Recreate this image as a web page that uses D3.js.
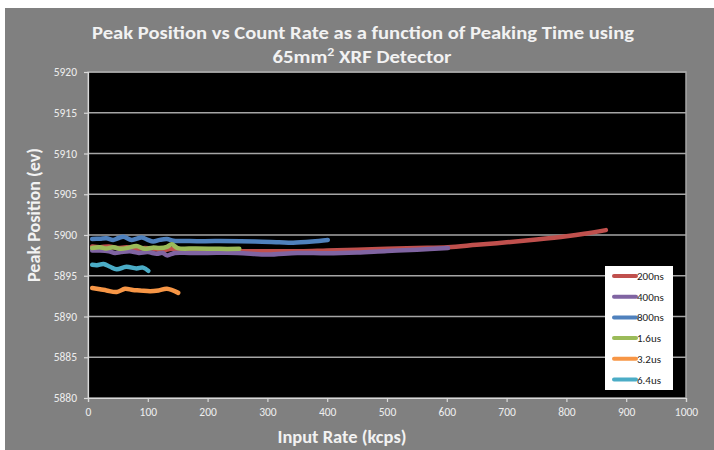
<!DOCTYPE html>
<html>
<head>
<meta charset="utf-8">
<script src="https://cdn.jsdelivr.net/npm/d3@7"></script>
<style>
  body { margin: 0; background: #ffffff; }
  text { font-family: Carlito, "Liberation Sans Narrow", "Liberation Sans", sans-serif; }
</style>
</head>
<body>
<svg id="chart" width="714" height="450"></svg>
<script>
// series names and colours (legend order)
const seriesNames = ["200ns", "400ns", "800ns", "1.6us", "3.2us", "6.4us"];
const seriesColors = ["#c0504d", "#8064a2", "#4f81bd", "#9bbb59", "#f79646", "#4bacc6"];

// input rate (kcps) per series
const x200ns = [7, 20, 35, 50, 65, 80, 95, 110, 125, 140, 160, 200, 250, 300, 355, 400, 450, 500, 550, 602, 650, 700, 750, 800, 830, 866];
const x400ns = [7, 20, 35, 45, 55, 70, 85, 100, 115, 125, 132, 145, 170, 200, 250, 300, 350, 400, 450, 500, 550, 602];
const x800ns = [7, 20, 31, 42, 50, 59, 73, 90, 100, 109, 120, 132, 143, 170, 220, 280, 320, 343, 375, 401];
const x1p6us = [7, 20, 30, 42, 55, 68, 81, 95, 108, 120, 132, 140, 150, 180, 220, 253];
const x3p2us = [7, 20, 31, 48, 62, 75, 87, 104, 118, 132, 151];
const x6p4us = [7, 15, 26, 37, 48, 64, 81, 92, 101];

// peak position (eV) per series
const y200ns = [5898.6, 5898.5, 5898.6, 5898.4, 5898.5, 5898.3, 5898.4, 5898.3, 5898.1, 5898.3, 5898.1, 5898.0, 5898.0, 5898.0, 5898.0, 5898.1, 5898.2, 5898.3, 5898.4, 5898.5, 5898.8, 5899.1, 5899.45, 5899.85, 5900.15, 5900.6];
const y400ns = [5898.1, 5898.1, 5898.0, 5897.8, 5897.9, 5898.0, 5897.8, 5897.9, 5897.7, 5897.8, 5897.5, 5897.8, 5897.8, 5897.8, 5897.8, 5897.6, 5897.8, 5897.75, 5897.85, 5898.05, 5898.2, 5898.4];
const y800ns = [5899.5, 5899.55, 5899.6, 5899.4, 5899.6, 5899.8, 5899.4, 5899.7, 5899.4, 5899.2, 5899.4, 5899.5, 5899.3, 5899.25, 5899.25, 5899.2, 5899.1, 5899.05, 5899.2, 5899.4];
const y1p6us = [5898.4, 5898.5, 5898.35, 5898.5, 5898.3, 5898.45, 5898.65, 5898.3, 5898.45, 5898.4, 5898.55, 5898.85, 5898.4, 5898.35, 5898.3, 5898.3];
const y3p2us = [5893.5, 5893.35, 5893.2, 5893.0, 5893.4, 5893.25, 5893.2, 5893.1, 5893.2, 5893.4, 5892.9];
const y6p4us = [5896.35, 5896.3, 5896.45, 5896.1, 5895.8, 5896.1, 5895.9, 5896.0, 5895.6];

const xTicks = [0, 100, 200, 300, 400, 500, 600, 700, 800, 900, 1000];
const yTicks = [5880, 5885, 5890, 5895, 5900, 5905, 5910, 5915, 5920];

const xs = [x200ns, x400ns, x800ns, x1p6us, x3p2us, x6p4us];
const ys = [y200ns, y400ns, y800ns, y1p6us, y3p2us, y6p4us];
const series = seriesNames.map((name, i) => ({
    name: name,
    color: seriesColors[i],
    points: xs[i].map((x, j) => ({x: x, y: ys[i][j]}))
}));

const plot = {left: 88, top: 72, right: 686, bottom: 398};

const svg = d3.select("#chart");

// chart background
svg.append("rect")
    .attr("x", 5).attr("y", 8)
    .attr("width", 709).attr("height", 442)
    .attr("fill", "#808080");

const x = d3.scaleLinear().domain([0, 1000]).range([plot.left, plot.right]);
const y = d3.scaleLinear().domain([5880, 5920]).range([plot.bottom, plot.top]);

// plot area
svg.append("rect")
    .attr("x", plot.left).attr("y", plot.top)
    .attr("width", plot.right - plot.left)
    .attr("height", plot.bottom - plot.top)
    .attr("fill", "#000000")
    .attr("stroke", "#a6a6a6")
    .attr("stroke-width", 1.5);

// gridlines
svg.append("g")
    .selectAll("line")
    .data(yTicks.slice(1))
    .enter()
    .append("line")
    .attr("x1", plot.left).attr("x2", plot.right)
    .attr("y1", d => y(d)).attr("y2", d => y(d))
    .attr("stroke", "#a6a6a6")
    .attr("stroke-width", 1.5);

// axes
const yAxis = svg.append("g")
    .attr("transform", "translate(" + plot.left + ",0)")
    .call(d3.axisLeft(y).tickValues(yTicks).tickFormat(d3.format("d")).tickSize(4).tickPadding(7));
const xAxis = svg.append("g")
    .attr("transform", "translate(0," + plot.bottom + ")")
    .call(d3.axisBottom(x).tickValues(xTicks).tickFormat(d3.format("d")).tickSize(4).tickPadding(6));

[xAxis, yAxis].forEach(ax => {
    ax.select(".domain").attr("stroke", "#d9d9d9").attr("stroke-width", 1.2);
    ax.selectAll(".tick line").attr("stroke", "#d9d9d9").attr("stroke-width", 1.2);
    ax.selectAll(".tick text")
        .attr("fill", "#eeeeee")
        .style("font-size", "11.5px")
        .style("font-family", "Carlito, 'Liberation Sans Narrow', 'Liberation Sans', sans-serif");
});

// series lines
const line = d3.line()
    .x(d => x(d.x))
    .y(d => y(d.y))
    .curve(d3.curveCatmullRom.alpha(0.5));

svg.append("g")
    .selectAll("path")
    .data(series)
    .enter()
    .append("path")
    .attr("d", d => line(d.points))
    .attr("fill", "none")
    .attr("stroke", d => d.color)
    .attr("stroke-width", 4.5)
    .attr("stroke-linecap", "round")
    .attr("stroke-linejoin", "round");

// legend
const legend = svg.append("g").attr("transform", "translate(605,266)");
legend.append("rect")
    .attr("width", 68).attr("height", 124)
    .attr("fill", "#ffffff");

const legendRows = legend.selectAll(".legendRow")
    .data(series)
    .enter()
    .append("g")
    .attr("class", "legendRow")
    .attr("transform", (d, i) => "translate(0," + (10 + i * 20.7) + ")");

legendRows.append("line")
    .attr("x1", 9).attr("x2", 31)
    .attr("stroke", d => d.color)
    .attr("stroke-width", 4)
    .attr("stroke-linecap", "round");

legendRows.append("text")
    .text(d => d.name)
    .attr("x", 32)
    .attr("y", 4)
    .attr("fill", "#222222")
    .style("font-size", "11px");

// titles
const title = svg.append("g").attr("fill", "#f2f2f2").style("font-weight", "bold");
title.append("text")
    .text("Peak Position vs Count Rate as a function of Peaking Time using")
    .attr("x", 363).attr("y", 39)
    .attr("text-anchor", "middle")
    .attr("textLength", 542)
    .attr("lengthAdjust", "spacingAndGlyphs")
    .style("font-size", "18px");

const t2 = title.append("text")
    .attr("x", 362).attr("y", 63)
    .attr("text-anchor", "middle")
    .attr("textLength", 179)
    .attr("lengthAdjust", "spacingAndGlyphs")
    .style("font-size", "18px");
t2.append("tspan").text("65mm");
t2.append("tspan").text("2").attr("dy", -7).style("font-size", "12px");
t2.append("tspan").text(" XRF Detector").attr("dy", 7);

title.append("text")
    .text("Input Rate (kcps)")
    .attr("x", 342).attr("y", 443)
    .attr("text-anchor", "middle")
    .attr("textLength", 129)
    .attr("lengthAdjust", "spacingAndGlyphs")
    .style("font-size", "18px");

title.append("text")
    .text("Peak Position (ev)")
    .attr("transform", "translate(40,215) rotate(-90)")
    .attr("text-anchor", "middle")
    .attr("textLength", 134)
    .attr("lengthAdjust", "spacingAndGlyphs")
    .style("font-size", "18px");
</script>
</body>
</html>
